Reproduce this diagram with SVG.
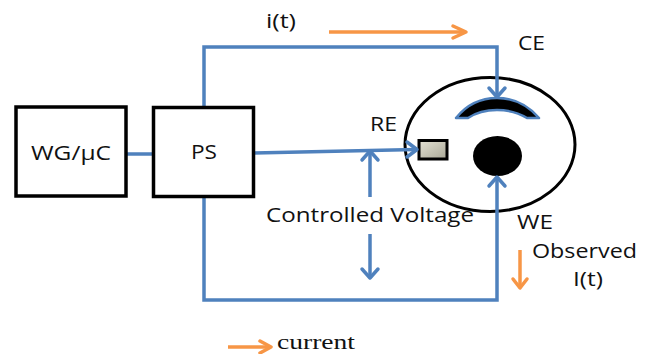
<svg xmlns="http://www.w3.org/2000/svg" width="652" height="354" viewBox="0 0 652 354">
<style>
.box{fill:#fff;stroke:#000;stroke-width:3.500}
.w{fill:none;stroke:#4f81bd;stroke-width:3.500}
.o{fill:none;stroke:#f79646;stroke-width:3.500}
.h{fill:none;stroke-width:3.500;stroke-linecap:round;stroke-linejoin:round}
text{font-family:"Open Sans","Noto Sans",sans-serif;font-size:20px;fill:#111}
.s{font-family:"Liberation Serif",serif;font-size:22px}
</style>
<defs>
<linearGradient id="g" x1="0" y1="0" x2="1" y2="1"><stop offset="0" stop-color="#e4e2d4"/><stop offset="1" stop-color="#a9a796"/></linearGradient>
</defs>
<rect width="652" height="354" fill="#fff"/>
<g id="cell">
<ellipse cx="490" cy="144.500" rx="85" ry="67" fill="#fff" stroke="#000" stroke-width="3"/>
</g>
<g id="CE">
<path d="M456 118C468 103 483 98 497 98C511 98 526 103 539 118L527 118C517 112 506 110 497 110C488 110 477 112 468 118Z" fill="#000" stroke="#4f81bd" stroke-width="2.500" stroke-linejoin="round"/>
<text x="518" y="50" textLength="27" lengthAdjust="spacingAndGlyphs">CE</text>
</g>
<g id="RE">
<rect x="419" y="140.500" width="28" height="18.500" fill="url(#g)" stroke="#000" stroke-width="3"/>
<text x="370" y="131" textLength="27" lengthAdjust="spacingAndGlyphs">RE</text>
</g>
<g id="WE">
<ellipse cx="497.500" cy="156" rx="24.500" ry="20" fill="#000"/>
<text x="517" y="229" textLength="36" lengthAdjust="spacingAndGlyphs">WE</text>
</g>
<g id="connectors">
<path class="w" d="M204 107V47H497V96"/>
<path class="h" stroke="#4f81bd" d="M489 88L497 97L505 88"/>
<path class="w" d="M204 196V300H497V178"/>
<path class="h" stroke="#4f81bd" d="M489 186L497 177L505 186"/>
<path class="w" d="M126 154H153"/>
<path class="w" d="M254 153L416 149.500"/>
<path class="h" stroke="#4f81bd" d="M407 142L417 149.500L407 157"/>
<path class="w" d="M370 152V197"/>
<path class="h" stroke="#4f81bd" d="M362 160L370 151L378 160"/>
<path class="w" d="M370 234V277"/>
<path class="h" stroke="#4f81bd" d="M362 269L370 278L378 269"/>
<path class="o" d="M329 32H465"/>
<path class="h" stroke="#f79646" d="M453 26L466 32L453 38"/>
<path class="o" d="M520 250V287"/>
<path class="h" stroke="#f79646" d="M513 279L520 288L527 279"/>
<path class="o" d="M228 347H269"/>
<path class="h" stroke="#f79646" d="M260 341L271 347L260 353"/>
</g>
<g id="WGuC">
<rect class="box" x="16" y="107" width="110" height="89"/>
<text x="31" y="160" textLength="80" lengthAdjust="spacingAndGlyphs">WG/µC</text>
</g>
<g id="PS">
<rect class="box" x="153.500" y="107.500" width="100" height="89"/>
<text x="191" y="159" textLength="26" lengthAdjust="spacingAndGlyphs">PS</text>
</g>
<g id="labels">
<text x="266" y="28" textLength="30" lengthAdjust="spacingAndGlyphs">i(t)</text>
<text x="266" y="222" textLength="208" lengthAdjust="spacingAndGlyphs">Controlled Voltage</text>
<text x="532" y="258" textLength="105" lengthAdjust="spacingAndGlyphs">Observed</text>
<text x="573" y="286" textLength="30" lengthAdjust="spacingAndGlyphs">I(t)</text>
<text class="s" x="277" y="349" textLength="78" lengthAdjust="spacingAndGlyphs">current</text>
</g>
</svg>
